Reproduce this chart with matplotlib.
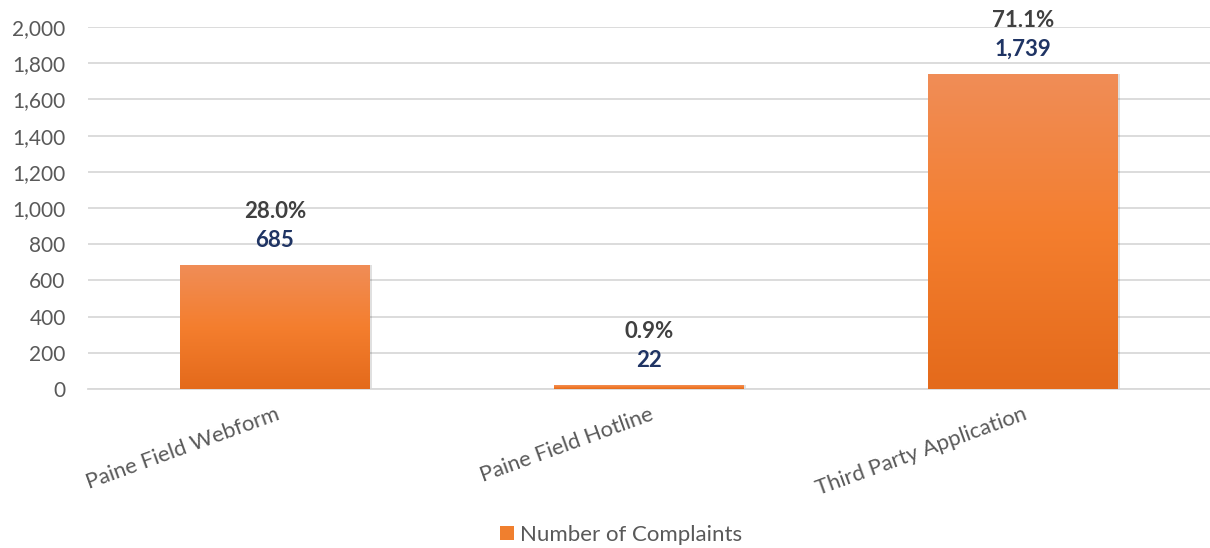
import numpy as np
import matplotlib
matplotlib.use("Agg")
import matplotlib.pyplot as plt
from matplotlib.colors import LinearSegmentedColormap
from matplotlib.patches import Patch
from matplotlib.ticker import FuncFormatter

plt.rcParams["font.family"] = ["Lato", "DejaVu Sans"]

categories = ["Paine Field Webform", "Paine Field Hotline", "Third Party Application"]
complaints = [685, 22, 1739]
pct_labels = ["28.0%", "0.9%", "71.1%"]
yticks = [0, 200, 400, 600, 800, 1000, 1200, 1400, 1600, 1800, 2000]

fig = plt.figure(figsize=(12.1, 5.48), dpi=100)
ax = fig.add_axes([0.0727, 0.2901, 0.927, 0.6606])

x = np.arange(len(categories))
bars = ax.bar(x, complaints, width=0.507, color="#F07F2E", zorder=2)

# vertical gradient inside each bar (light top, darker bottom)
grad_cmap = LinearSegmentedColormap.from_list(
    "orange_grad", ["#E46A1B", "#F47E2E", "#F08D57"])
grad = np.linspace(0, 1, 256).reshape(-1, 1)
for b in bars:
    x0, y0 = b.get_x(), b.get_y()
    w, h = b.get_width(), b.get_height()
    # soft shadow
    ax.add_patch(plt.Rectangle((x0 + 0.006, y0), w, h, facecolor="#000000",
                               alpha=0.12, edgecolor="none", zorder=1.5))
    im = ax.imshow(grad, extent=[x0, x0 + w, y0, y0 + h], origin="lower",
                   cmap=grad_cmap, aspect="auto", zorder=3)
    im.set_clip_path(b)

for xi, val, pct in zip(x, complaints, pct_labels):
    ax.annotate(f"{val:,}", (xi, val), xytext=(0, 18), textcoords="offset points",
                ha="center", va="center", fontsize=16, fontweight="bold",
                color="#1F3464", zorder=4)
    ax.annotate(pct, (xi, val), xytext=(0, 38.5), textcoords="offset points",
                ha="center", va="center", fontsize=16, fontweight="bold",
                color="#404040", zorder=4)

ax.set_xlim(-0.5, len(categories) - 0.5)
ax.set_ylim(0, 2000)
ax.set_yticks(yticks)
ax.yaxis.set_major_formatter(FuncFormatter(lambda v, p: f"{int(v):,}"))
ax.set_xticks(x)
ax.set_xticklabels(categories, rotation=20, ha="right", rotation_mode="anchor",
                   fontsize=15.8, color="#595959")
ax.tick_params(axis="y", length=0, labelsize=15, labelcolor="#595959", pad=16)
ax.tick_params(axis="x", length=0, pad=11)
ax.grid(axis="y", color="#D9D9D9", linewidth=1.3, zorder=0)
ax.set_axisbelow(True)
for s in ["top", "right", "left"]:
    ax.spines[s].set_visible(False)
ax.spines["bottom"].set_color("#D9D9D9")
ax.spines["bottom"].set_linewidth(1.3)

handle = Patch(facecolor="#F07F2E", edgecolor="none", label="Number of Complaints")
fig.legend(handles=[handle], loc="center", bbox_to_anchor=(0.513, 0.024),
           frameon=False, fontsize=16, labelcolor="#595959",
           handlelength=0.65, handleheight=0.65, handletextpad=0.25)

fig.savefig("out.png", dpi=100)
